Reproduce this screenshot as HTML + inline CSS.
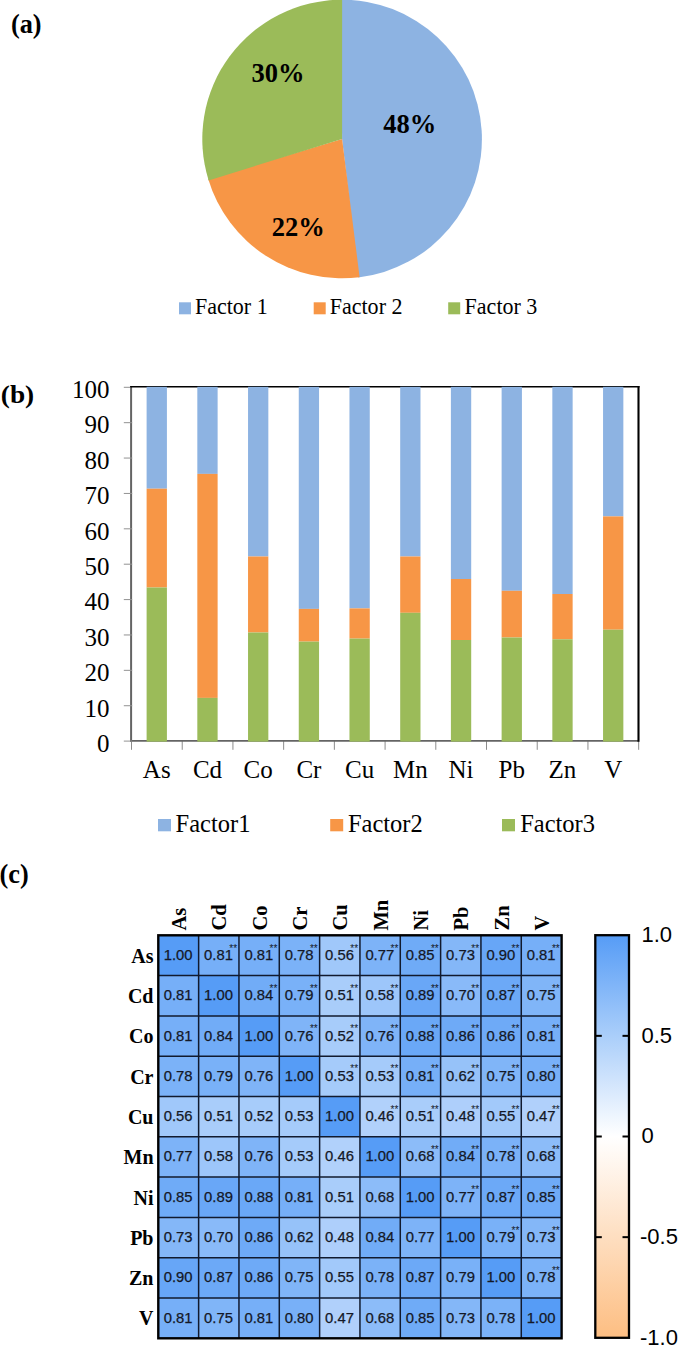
<!DOCTYPE html><html><head><meta charset="utf-8"><style>html,body{margin:0;padding:0;background:#fff;}svg{display:block}text{font-family:"Liberation Serif",serif}text.s{font-family:"Liberation Sans",sans-serif}</style></head><body>
<svg width="685" height="1348" viewBox="0 0 685 1348">
<rect x="0" y="0" width="685" height="1348" fill="#fff"/>
<path d="M342.10,139.00 L340.64,-0.29 A139.8,139.3 0 0 1 358.17,277.38 Z" fill="#8DB3E2"/>
<path d="M342.10,139.00 L359.62,277.20 A139.8,139.3 0 0 1 208.20,179.03 Z" fill="#F79646"/>
<path d="M342.10,139.00 L208.62,180.42 A139.8,139.3 0 0 1 342.10,-0.30 Z" fill="#9BBB59"/>
<text x="10.9" y="33" font-size="26.3" font-weight="bold">(a)</text>
<text x="251.6" y="82" font-size="26.5" font-weight="bold">30%</text>
<text x="383.3" y="133" font-size="26.5" font-weight="bold">48%</text>
<text x="271.8" y="235.5" font-size="26.5" font-weight="bold">22%</text>
<rect x="179" y="302.3" width="12" height="12" fill="#8DB3E2"/>
<text transform="translate(194.9,313.5) scale(0.95,1)" font-size="23.2">Factor 1</text>
<rect x="313.7" y="302.3" width="12" height="12" fill="#F79646"/>
<text transform="translate(329.7,313.5) scale(0.95,1)" font-size="23.2">Factor 2</text>
<rect x="448.2" y="302.3" width="12" height="12" fill="#9BBB59"/>
<text transform="translate(464.6,313.5) scale(0.95,1)" font-size="23.2">Factor 3</text>
<text transform="translate(0.8,402.5) scale(1.04,0.93)" font-size="26.3" font-weight="bold">(b)</text>
<text x="109.5" y="751.90" font-size="25" text-anchor="end">0</text>
<text x="109.5" y="716.52" font-size="25" text-anchor="end">10</text>
<text x="109.5" y="681.14" font-size="25" text-anchor="end">20</text>
<text x="109.5" y="645.76" font-size="25" text-anchor="end">30</text>
<text x="109.5" y="610.38" font-size="25" text-anchor="end">40</text>
<text x="109.5" y="575.00" font-size="25" text-anchor="end">50</text>
<text x="109.5" y="539.62" font-size="25" text-anchor="end">60</text>
<text x="109.5" y="504.24" font-size="25" text-anchor="end">70</text>
<text x="109.5" y="468.86" font-size="25" text-anchor="end">80</text>
<text x="109.5" y="433.48" font-size="25" text-anchor="end">90</text>
<text x="109.5" y="398.10" font-size="25" text-anchor="end">100</text>
<line x1="131.50" y1="741" x2="131.50" y2="749.8" stroke="#8c8c8c" stroke-width="1"/>
<line x1="182.22" y1="741" x2="182.22" y2="749.8" stroke="#8c8c8c" stroke-width="1"/>
<line x1="232.93" y1="741" x2="232.93" y2="749.8" stroke="#8c8c8c" stroke-width="1"/>
<line x1="283.65" y1="741" x2="283.65" y2="749.8" stroke="#8c8c8c" stroke-width="1"/>
<line x1="334.36" y1="741" x2="334.36" y2="749.8" stroke="#8c8c8c" stroke-width="1"/>
<line x1="385.08" y1="741" x2="385.08" y2="749.8" stroke="#8c8c8c" stroke-width="1"/>
<line x1="435.80" y1="741" x2="435.80" y2="749.8" stroke="#8c8c8c" stroke-width="1"/>
<line x1="486.51" y1="741" x2="486.51" y2="749.8" stroke="#8c8c8c" stroke-width="1"/>
<line x1="537.23" y1="741" x2="537.23" y2="749.8" stroke="#8c8c8c" stroke-width="1"/>
<line x1="587.94" y1="741" x2="587.94" y2="749.8" stroke="#8c8c8c" stroke-width="1"/>
<line x1="638.66" y1="741" x2="638.66" y2="749.8" stroke="#8c8c8c" stroke-width="1"/>
<line x1="131.1" y1="386.3" x2="131.1" y2="741.9" stroke="#646464" stroke-width="2"/>
<line x1="130.1" y1="740.9" x2="638.6" y2="740.9" stroke="#646464" stroke-width="1.6"/>
<line x1="130.1" y1="386.75" x2="639.5" y2="386.75" stroke="#000" stroke-width="1.7"/>
<line x1="638.5" y1="385.9" x2="638.5" y2="741.7" stroke="#000" stroke-width="2.1"/>
<line x1="123.8" y1="741.10" x2="132.2" y2="741.10" stroke="#929292" stroke-width="1"/><line x1="123.8" y1="705.72" x2="132.2" y2="705.72" stroke="#929292" stroke-width="1"/><line x1="123.8" y1="670.34" x2="132.2" y2="670.34" stroke="#929292" stroke-width="1"/><line x1="123.8" y1="634.96" x2="132.2" y2="634.96" stroke="#929292" stroke-width="1"/><line x1="123.8" y1="599.58" x2="132.2" y2="599.58" stroke="#929292" stroke-width="1"/><line x1="123.8" y1="564.20" x2="132.2" y2="564.20" stroke="#929292" stroke-width="1"/><line x1="123.8" y1="528.82" x2="132.2" y2="528.82" stroke="#929292" stroke-width="1"/><line x1="123.8" y1="493.44" x2="132.2" y2="493.44" stroke="#929292" stroke-width="1"/><line x1="123.8" y1="458.06" x2="132.2" y2="458.06" stroke="#929292" stroke-width="1"/><line x1="123.8" y1="422.68" x2="132.2" y2="422.68" stroke="#929292" stroke-width="1"/><line x1="123.8" y1="387.30" x2="130.2" y2="387.30" stroke="#929292" stroke-width="1"/>
<rect x="146.61" y="386.8" width="20.3" height="101.90" fill="#8DB3E2"/>
<rect x="146.61" y="488.7" width="20.3" height="98.80" fill="#F79646"/>
<rect x="146.61" y="587.5" width="20.3" height="154.10" fill="#9BBB59"/>
<text x="156.76" y="777.7" font-size="25" text-anchor="middle">As</text>
<rect x="197.32" y="386.8" width="20.3" height="87.10" fill="#8DB3E2"/>
<rect x="197.32" y="473.9" width="20.3" height="224.00" fill="#F79646"/>
<rect x="197.32" y="697.9" width="20.3" height="43.70" fill="#9BBB59"/>
<text x="207.47" y="777.7" font-size="25" text-anchor="middle">Cd</text>
<rect x="248.04" y="386.8" width="20.3" height="169.70" fill="#8DB3E2"/>
<rect x="248.04" y="556.5" width="20.3" height="76.00" fill="#F79646"/>
<rect x="248.04" y="632.5" width="20.3" height="109.10" fill="#9BBB59"/>
<text x="258.19" y="777.7" font-size="25" text-anchor="middle">Co</text>
<rect x="298.76" y="386.8" width="20.3" height="222.10" fill="#8DB3E2"/>
<rect x="298.76" y="608.9" width="20.3" height="32.70" fill="#F79646"/>
<rect x="298.76" y="641.6" width="20.3" height="100.00" fill="#9BBB59"/>
<text x="308.91" y="777.7" font-size="25" text-anchor="middle">Cr</text>
<rect x="349.47" y="386.8" width="20.3" height="221.60" fill="#8DB3E2"/>
<rect x="349.47" y="608.4" width="20.3" height="30.20" fill="#F79646"/>
<rect x="349.47" y="638.6" width="20.3" height="103.00" fill="#9BBB59"/>
<text x="359.62" y="777.7" font-size="25" text-anchor="middle">Cu</text>
<rect x="400.19" y="386.8" width="20.3" height="169.70" fill="#8DB3E2"/>
<rect x="400.19" y="556.5" width="20.3" height="56.30" fill="#F79646"/>
<rect x="400.19" y="612.8" width="20.3" height="128.80" fill="#9BBB59"/>
<text x="410.34" y="777.7" font-size="25" text-anchor="middle">Mn</text>
<rect x="450.90" y="386.8" width="20.3" height="192.20" fill="#8DB3E2"/>
<rect x="450.90" y="579" width="20.3" height="61.00" fill="#F79646"/>
<rect x="450.90" y="640" width="20.3" height="101.60" fill="#9BBB59"/>
<text x="461.05" y="777.7" font-size="25" text-anchor="middle">Ni</text>
<rect x="501.62" y="386.8" width="20.3" height="204.00" fill="#8DB3E2"/>
<rect x="501.62" y="590.8" width="20.3" height="46.70" fill="#F79646"/>
<rect x="501.62" y="637.5" width="20.3" height="104.10" fill="#9BBB59"/>
<text x="511.77" y="777.7" font-size="25" text-anchor="middle">Pb</text>
<rect x="552.34" y="386.8" width="20.3" height="207.20" fill="#8DB3E2"/>
<rect x="552.34" y="594" width="20.3" height="45.30" fill="#F79646"/>
<rect x="552.34" y="639.3" width="20.3" height="102.30" fill="#9BBB59"/>
<text x="562.49" y="777.7" font-size="25" text-anchor="middle">Zn</text>
<rect x="603.05" y="386.8" width="20.3" height="129.60" fill="#8DB3E2"/>
<rect x="603.05" y="516.4" width="20.3" height="113.30" fill="#F79646"/>
<rect x="603.05" y="629.7" width="20.3" height="111.90" fill="#9BBB59"/>
<text x="613.20" y="777.7" font-size="25" text-anchor="middle">V</text>
<rect x="158" y="819" width="13" height="12.3" fill="#8DB3E2"/>
<text x="175.6" y="831.6" font-size="24.5">Factor1</text>
<rect x="330.2" y="819" width="13" height="12.3" fill="#F79646"/>
<text x="347.9" y="831.6" font-size="24.5">Factor2</text>
<rect x="502" y="819" width="13" height="12.3" fill="#9BBB59"/>
<text x="520.2" y="831.6" font-size="24.5">Factor3</text>
<text x="-0.4" y="882.8" font-size="26.3" font-weight="bold">(c)</text>
<rect x="158.30" y="935.30" width="40.38" height="40.35" fill="#569cf6"/>
<rect x="198.63" y="935.30" width="40.38" height="40.35" fill="#76aff8"/>
<rect x="238.96" y="935.30" width="40.38" height="40.35" fill="#76aff8"/>
<rect x="279.29" y="935.30" width="40.38" height="40.35" fill="#7bb2f8"/>
<rect x="319.62" y="935.30" width="40.38" height="40.35" fill="#a0c8fa"/>
<rect x="359.95" y="935.30" width="40.38" height="40.35" fill="#7db3f8"/>
<rect x="400.28" y="935.30" width="40.38" height="40.35" fill="#6fabf7"/>
<rect x="440.61" y="935.30" width="40.38" height="40.35" fill="#84b7f8"/>
<rect x="480.94" y="935.30" width="40.38" height="40.35" fill="#67a6f7"/>
<rect x="521.27" y="935.30" width="40.38" height="40.35" fill="#76aff8"/>
<rect x="158.30" y="975.60" width="40.38" height="40.35" fill="#76aff8"/>
<rect x="198.63" y="975.60" width="40.38" height="40.35" fill="#569cf6"/>
<rect x="238.96" y="975.60" width="40.38" height="40.35" fill="#71acf7"/>
<rect x="279.29" y="975.60" width="40.38" height="40.35" fill="#79b1f8"/>
<rect x="319.62" y="975.60" width="40.38" height="40.35" fill="#a9cdfa"/>
<rect x="359.95" y="975.60" width="40.38" height="40.35" fill="#9dc6fa"/>
<rect x="400.28" y="975.60" width="40.38" height="40.35" fill="#69a7f7"/>
<rect x="440.61" y="975.60" width="40.38" height="40.35" fill="#89baf9"/>
<rect x="480.94" y="975.60" width="40.38" height="40.35" fill="#6ca9f7"/>
<rect x="521.27" y="975.60" width="40.38" height="40.35" fill="#80b5f8"/>
<rect x="158.30" y="1015.90" width="40.38" height="40.35" fill="#76aff8"/>
<rect x="198.63" y="1015.90" width="40.38" height="40.35" fill="#71acf7"/>
<rect x="238.96" y="1015.90" width="40.38" height="40.35" fill="#569cf6"/>
<rect x="279.29" y="1015.90" width="40.38" height="40.35" fill="#7fb4f8"/>
<rect x="319.62" y="1015.90" width="40.38" height="40.35" fill="#a7ccfa"/>
<rect x="359.95" y="1015.90" width="40.38" height="40.35" fill="#7fb4f8"/>
<rect x="400.28" y="1015.90" width="40.38" height="40.35" fill="#6aa8f7"/>
<rect x="440.61" y="1015.90" width="40.38" height="40.35" fill="#6eaaf7"/>
<rect x="480.94" y="1015.90" width="40.38" height="40.35" fill="#6eaaf7"/>
<rect x="521.27" y="1015.90" width="40.38" height="40.35" fill="#76aff8"/>
<rect x="158.30" y="1056.20" width="40.38" height="40.35" fill="#7bb2f8"/>
<rect x="198.63" y="1056.20" width="40.38" height="40.35" fill="#79b1f8"/>
<rect x="238.96" y="1056.20" width="40.38" height="40.35" fill="#7fb4f8"/>
<rect x="279.29" y="1056.20" width="40.38" height="40.35" fill="#569cf6"/>
<rect x="319.62" y="1056.20" width="40.38" height="40.35" fill="#a5cbfa"/>
<rect x="359.95" y="1056.20" width="40.38" height="40.35" fill="#a5cbfa"/>
<rect x="400.28" y="1056.20" width="40.38" height="40.35" fill="#76aff8"/>
<rect x="440.61" y="1056.20" width="40.38" height="40.35" fill="#96c2f9"/>
<rect x="480.94" y="1056.20" width="40.38" height="40.35" fill="#80b5f8"/>
<rect x="521.27" y="1056.20" width="40.38" height="40.35" fill="#78b0f8"/>
<rect x="158.30" y="1096.50" width="40.38" height="40.35" fill="#a0c8fa"/>
<rect x="198.63" y="1096.50" width="40.38" height="40.35" fill="#a9cdfa"/>
<rect x="238.96" y="1096.50" width="40.38" height="40.35" fill="#a7ccfa"/>
<rect x="279.29" y="1096.50" width="40.38" height="40.35" fill="#a5cbfa"/>
<rect x="319.62" y="1096.50" width="40.38" height="40.35" fill="#569cf6"/>
<rect x="359.95" y="1096.50" width="40.38" height="40.35" fill="#b1d1fb"/>
<rect x="400.28" y="1096.50" width="40.38" height="40.35" fill="#a9cdfa"/>
<rect x="440.61" y="1096.50" width="40.38" height="40.35" fill="#aecffb"/>
<rect x="480.94" y="1096.50" width="40.38" height="40.35" fill="#a2c9fa"/>
<rect x="521.27" y="1096.50" width="40.38" height="40.35" fill="#b0d0fb"/>
<rect x="158.30" y="1136.80" width="40.38" height="40.35" fill="#7db3f8"/>
<rect x="198.63" y="1136.80" width="40.38" height="40.35" fill="#9dc6fa"/>
<rect x="238.96" y="1136.80" width="40.38" height="40.35" fill="#7fb4f8"/>
<rect x="279.29" y="1136.80" width="40.38" height="40.35" fill="#a5cbfa"/>
<rect x="319.62" y="1136.80" width="40.38" height="40.35" fill="#b1d1fb"/>
<rect x="359.95" y="1136.80" width="40.38" height="40.35" fill="#569cf6"/>
<rect x="400.28" y="1136.80" width="40.38" height="40.35" fill="#8cbcf9"/>
<rect x="440.61" y="1136.80" width="40.38" height="40.35" fill="#71acf7"/>
<rect x="480.94" y="1136.80" width="40.38" height="40.35" fill="#7bb2f8"/>
<rect x="521.27" y="1136.80" width="40.38" height="40.35" fill="#8cbcf9"/>
<rect x="158.30" y="1177.10" width="40.38" height="40.35" fill="#6fabf7"/>
<rect x="198.63" y="1177.10" width="40.38" height="40.35" fill="#69a7f7"/>
<rect x="238.96" y="1177.10" width="40.38" height="40.35" fill="#6aa8f7"/>
<rect x="279.29" y="1177.10" width="40.38" height="40.35" fill="#76aff8"/>
<rect x="319.62" y="1177.10" width="40.38" height="40.35" fill="#a9cdfa"/>
<rect x="359.95" y="1177.10" width="40.38" height="40.35" fill="#8cbcf9"/>
<rect x="400.28" y="1177.10" width="40.38" height="40.35" fill="#569cf6"/>
<rect x="440.61" y="1177.10" width="40.38" height="40.35" fill="#7db3f8"/>
<rect x="480.94" y="1177.10" width="40.38" height="40.35" fill="#6ca9f7"/>
<rect x="521.27" y="1177.10" width="40.38" height="40.35" fill="#6fabf7"/>
<rect x="158.30" y="1217.40" width="40.38" height="40.35" fill="#84b7f8"/>
<rect x="198.63" y="1217.40" width="40.38" height="40.35" fill="#89baf9"/>
<rect x="238.96" y="1217.40" width="40.38" height="40.35" fill="#6eaaf7"/>
<rect x="279.29" y="1217.40" width="40.38" height="40.35" fill="#96c2f9"/>
<rect x="319.62" y="1217.40" width="40.38" height="40.35" fill="#aecffb"/>
<rect x="359.95" y="1217.40" width="40.38" height="40.35" fill="#71acf7"/>
<rect x="400.28" y="1217.40" width="40.38" height="40.35" fill="#7db3f8"/>
<rect x="440.61" y="1217.40" width="40.38" height="40.35" fill="#569cf6"/>
<rect x="480.94" y="1217.40" width="40.38" height="40.35" fill="#79b1f8"/>
<rect x="521.27" y="1217.40" width="40.38" height="40.35" fill="#84b7f8"/>
<rect x="158.30" y="1257.70" width="40.38" height="40.35" fill="#67a6f7"/>
<rect x="198.63" y="1257.70" width="40.38" height="40.35" fill="#6ca9f7"/>
<rect x="238.96" y="1257.70" width="40.38" height="40.35" fill="#6eaaf7"/>
<rect x="279.29" y="1257.70" width="40.38" height="40.35" fill="#80b5f8"/>
<rect x="319.62" y="1257.70" width="40.38" height="40.35" fill="#a2c9fa"/>
<rect x="359.95" y="1257.70" width="40.38" height="40.35" fill="#7bb2f8"/>
<rect x="400.28" y="1257.70" width="40.38" height="40.35" fill="#6ca9f7"/>
<rect x="440.61" y="1257.70" width="40.38" height="40.35" fill="#79b1f8"/>
<rect x="480.94" y="1257.70" width="40.38" height="40.35" fill="#569cf6"/>
<rect x="521.27" y="1257.70" width="40.38" height="40.35" fill="#7bb2f8"/>
<rect x="158.30" y="1298.00" width="40.38" height="40.35" fill="#76aff8"/>
<rect x="198.63" y="1298.00" width="40.38" height="40.35" fill="#80b5f8"/>
<rect x="238.96" y="1298.00" width="40.38" height="40.35" fill="#76aff8"/>
<rect x="279.29" y="1298.00" width="40.38" height="40.35" fill="#78b0f8"/>
<rect x="319.62" y="1298.00" width="40.38" height="40.35" fill="#b0d0fb"/>
<rect x="359.95" y="1298.00" width="40.38" height="40.35" fill="#8cbcf9"/>
<rect x="400.28" y="1298.00" width="40.38" height="40.35" fill="#6fabf7"/>
<rect x="440.61" y="1298.00" width="40.38" height="40.35" fill="#84b7f8"/>
<rect x="480.94" y="1298.00" width="40.38" height="40.35" fill="#7bb2f8"/>
<rect x="521.27" y="1298.00" width="40.38" height="40.35" fill="#569cf6"/>
<text x="178.16" y="959.95" class="s" font-size="14.8" text-anchor="middle" fill="#141826" stroke="#141826" stroke-width="0.25">1.00</text>
<text x="218.50" y="959.95" class="s" font-size="14.8" text-anchor="middle" fill="#141826" stroke="#141826" stroke-width="0.25">0.81</text>
<text x="229.30" y="951.55" class="s" font-size="10" fill="#141826">**</text>
<text x="258.82" y="959.95" class="s" font-size="14.8" text-anchor="middle" fill="#141826" stroke="#141826" stroke-width="0.25">0.81</text>
<text x="269.62" y="951.55" class="s" font-size="10" fill="#141826">**</text>
<text x="299.16" y="959.95" class="s" font-size="14.8" text-anchor="middle" fill="#141826" stroke="#141826" stroke-width="0.25">0.78</text>
<text x="309.96" y="951.55" class="s" font-size="10" fill="#141826">**</text>
<text x="339.48" y="959.95" class="s" font-size="14.8" text-anchor="middle" fill="#141826" stroke="#141826" stroke-width="0.25">0.56</text>
<text x="350.28" y="951.55" class="s" font-size="10" fill="#141826">**</text>
<text x="379.81" y="959.95" class="s" font-size="14.8" text-anchor="middle" fill="#141826" stroke="#141826" stroke-width="0.25">0.77</text>
<text x="390.62" y="951.55" class="s" font-size="10" fill="#141826">**</text>
<text x="420.14" y="959.95" class="s" font-size="14.8" text-anchor="middle" fill="#141826" stroke="#141826" stroke-width="0.25">0.85</text>
<text x="430.94" y="951.55" class="s" font-size="10" fill="#141826">**</text>
<text x="460.47" y="959.95" class="s" font-size="14.8" text-anchor="middle" fill="#141826" stroke="#141826" stroke-width="0.25">0.73</text>
<text x="471.27" y="951.55" class="s" font-size="10" fill="#141826">**</text>
<text x="500.81" y="959.95" class="s" font-size="14.8" text-anchor="middle" fill="#141826" stroke="#141826" stroke-width="0.25">0.90</text>
<text x="511.61" y="951.55" class="s" font-size="10" fill="#141826">**</text>
<text x="541.13" y="959.95" class="s" font-size="14.8" text-anchor="middle" fill="#141826" stroke="#141826" stroke-width="0.25">0.81</text>
<text x="551.93" y="951.55" class="s" font-size="10" fill="#141826">**</text>
<text x="178.16" y="1000.25" class="s" font-size="14.8" text-anchor="middle" fill="#141826" stroke="#141826" stroke-width="0.25">0.81</text>
<text x="218.50" y="1000.25" class="s" font-size="14.8" text-anchor="middle" fill="#141826" stroke="#141826" stroke-width="0.25">1.00</text>
<text x="258.82" y="1000.25" class="s" font-size="14.8" text-anchor="middle" fill="#141826" stroke="#141826" stroke-width="0.25">0.84</text>
<text x="269.62" y="991.85" class="s" font-size="10" fill="#141826">**</text>
<text x="299.16" y="1000.25" class="s" font-size="14.8" text-anchor="middle" fill="#141826" stroke="#141826" stroke-width="0.25">0.79</text>
<text x="309.96" y="991.85" class="s" font-size="10" fill="#141826">**</text>
<text x="339.48" y="1000.25" class="s" font-size="14.8" text-anchor="middle" fill="#141826" stroke="#141826" stroke-width="0.25">0.51</text>
<text x="350.28" y="991.85" class="s" font-size="10" fill="#141826">**</text>
<text x="379.81" y="1000.25" class="s" font-size="14.8" text-anchor="middle" fill="#141826" stroke="#141826" stroke-width="0.25">0.58</text>
<text x="390.62" y="991.85" class="s" font-size="10" fill="#141826">**</text>
<text x="420.14" y="1000.25" class="s" font-size="14.8" text-anchor="middle" fill="#141826" stroke="#141826" stroke-width="0.25">0.89</text>
<text x="430.94" y="991.85" class="s" font-size="10" fill="#141826">**</text>
<text x="460.47" y="1000.25" class="s" font-size="14.8" text-anchor="middle" fill="#141826" stroke="#141826" stroke-width="0.25">0.70</text>
<text x="471.27" y="991.85" class="s" font-size="10" fill="#141826">**</text>
<text x="500.81" y="1000.25" class="s" font-size="14.8" text-anchor="middle" fill="#141826" stroke="#141826" stroke-width="0.25">0.87</text>
<text x="511.61" y="991.85" class="s" font-size="10" fill="#141826">**</text>
<text x="541.13" y="1000.25" class="s" font-size="14.8" text-anchor="middle" fill="#141826" stroke="#141826" stroke-width="0.25">0.75</text>
<text x="551.93" y="991.85" class="s" font-size="10" fill="#141826">**</text>
<text x="178.16" y="1040.55" class="s" font-size="14.8" text-anchor="middle" fill="#141826" stroke="#141826" stroke-width="0.25">0.81</text>
<text x="218.50" y="1040.55" class="s" font-size="14.8" text-anchor="middle" fill="#141826" stroke="#141826" stroke-width="0.25">0.84</text>
<text x="258.82" y="1040.55" class="s" font-size="14.8" text-anchor="middle" fill="#141826" stroke="#141826" stroke-width="0.25">1.00</text>
<text x="299.16" y="1040.55" class="s" font-size="14.8" text-anchor="middle" fill="#141826" stroke="#141826" stroke-width="0.25">0.76</text>
<text x="309.96" y="1032.15" class="s" font-size="10" fill="#141826">**</text>
<text x="339.48" y="1040.55" class="s" font-size="14.8" text-anchor="middle" fill="#141826" stroke="#141826" stroke-width="0.25">0.52</text>
<text x="350.28" y="1032.15" class="s" font-size="10" fill="#141826">**</text>
<text x="379.81" y="1040.55" class="s" font-size="14.8" text-anchor="middle" fill="#141826" stroke="#141826" stroke-width="0.25">0.76</text>
<text x="390.62" y="1032.15" class="s" font-size="10" fill="#141826">**</text>
<text x="420.14" y="1040.55" class="s" font-size="14.8" text-anchor="middle" fill="#141826" stroke="#141826" stroke-width="0.25">0.88</text>
<text x="430.94" y="1032.15" class="s" font-size="10" fill="#141826">**</text>
<text x="460.47" y="1040.55" class="s" font-size="14.8" text-anchor="middle" fill="#141826" stroke="#141826" stroke-width="0.25">0.86</text>
<text x="471.27" y="1032.15" class="s" font-size="10" fill="#141826">**</text>
<text x="500.81" y="1040.55" class="s" font-size="14.8" text-anchor="middle" fill="#141826" stroke="#141826" stroke-width="0.25">0.86</text>
<text x="511.61" y="1032.15" class="s" font-size="10" fill="#141826">**</text>
<text x="541.13" y="1040.55" class="s" font-size="14.8" text-anchor="middle" fill="#141826" stroke="#141826" stroke-width="0.25">0.81</text>
<text x="551.93" y="1032.15" class="s" font-size="10" fill="#141826">**</text>
<text x="178.16" y="1080.85" class="s" font-size="14.8" text-anchor="middle" fill="#141826" stroke="#141826" stroke-width="0.25">0.78</text>
<text x="218.50" y="1080.85" class="s" font-size="14.8" text-anchor="middle" fill="#141826" stroke="#141826" stroke-width="0.25">0.79</text>
<text x="258.82" y="1080.85" class="s" font-size="14.8" text-anchor="middle" fill="#141826" stroke="#141826" stroke-width="0.25">0.76</text>
<text x="299.16" y="1080.85" class="s" font-size="14.8" text-anchor="middle" fill="#141826" stroke="#141826" stroke-width="0.25">1.00</text>
<text x="339.48" y="1080.85" class="s" font-size="14.8" text-anchor="middle" fill="#141826" stroke="#141826" stroke-width="0.25">0.53</text>
<text x="350.28" y="1072.45" class="s" font-size="10" fill="#141826">**</text>
<text x="379.81" y="1080.85" class="s" font-size="14.8" text-anchor="middle" fill="#141826" stroke="#141826" stroke-width="0.25">0.53</text>
<text x="390.62" y="1072.45" class="s" font-size="10" fill="#141826">**</text>
<text x="420.14" y="1080.85" class="s" font-size="14.8" text-anchor="middle" fill="#141826" stroke="#141826" stroke-width="0.25">0.81</text>
<text x="430.94" y="1072.45" class="s" font-size="10" fill="#141826">**</text>
<text x="460.47" y="1080.85" class="s" font-size="14.8" text-anchor="middle" fill="#141826" stroke="#141826" stroke-width="0.25">0.62</text>
<text x="471.27" y="1072.45" class="s" font-size="10" fill="#141826">**</text>
<text x="500.81" y="1080.85" class="s" font-size="14.8" text-anchor="middle" fill="#141826" stroke="#141826" stroke-width="0.25">0.75</text>
<text x="511.61" y="1072.45" class="s" font-size="10" fill="#141826">**</text>
<text x="541.13" y="1080.85" class="s" font-size="14.8" text-anchor="middle" fill="#141826" stroke="#141826" stroke-width="0.25">0.80</text>
<text x="551.93" y="1072.45" class="s" font-size="10" fill="#141826">**</text>
<text x="178.16" y="1121.15" class="s" font-size="14.8" text-anchor="middle" fill="#141826" stroke="#141826" stroke-width="0.25">0.56</text>
<text x="218.50" y="1121.15" class="s" font-size="14.8" text-anchor="middle" fill="#141826" stroke="#141826" stroke-width="0.25">0.51</text>
<text x="258.82" y="1121.15" class="s" font-size="14.8" text-anchor="middle" fill="#141826" stroke="#141826" stroke-width="0.25">0.52</text>
<text x="299.16" y="1121.15" class="s" font-size="14.8" text-anchor="middle" fill="#141826" stroke="#141826" stroke-width="0.25">0.53</text>
<text x="339.48" y="1121.15" class="s" font-size="14.8" text-anchor="middle" fill="#141826" stroke="#141826" stroke-width="0.25">1.00</text>
<text x="379.81" y="1121.15" class="s" font-size="14.8" text-anchor="middle" fill="#141826" stroke="#141826" stroke-width="0.25">0.46</text>
<text x="390.62" y="1112.75" class="s" font-size="10" fill="#141826">**</text>
<text x="420.14" y="1121.15" class="s" font-size="14.8" text-anchor="middle" fill="#141826" stroke="#141826" stroke-width="0.25">0.51</text>
<text x="430.94" y="1112.75" class="s" font-size="10" fill="#141826">**</text>
<text x="460.47" y="1121.15" class="s" font-size="14.8" text-anchor="middle" fill="#141826" stroke="#141826" stroke-width="0.25">0.48</text>
<text x="471.27" y="1112.75" class="s" font-size="10" fill="#141826">**</text>
<text x="500.81" y="1121.15" class="s" font-size="14.8" text-anchor="middle" fill="#141826" stroke="#141826" stroke-width="0.25">0.55</text>
<text x="511.61" y="1112.75" class="s" font-size="10" fill="#141826">**</text>
<text x="541.13" y="1121.15" class="s" font-size="14.8" text-anchor="middle" fill="#141826" stroke="#141826" stroke-width="0.25">0.47</text>
<text x="551.93" y="1112.75" class="s" font-size="10" fill="#141826">**</text>
<text x="178.16" y="1161.45" class="s" font-size="14.8" text-anchor="middle" fill="#141826" stroke="#141826" stroke-width="0.25">0.77</text>
<text x="218.50" y="1161.45" class="s" font-size="14.8" text-anchor="middle" fill="#141826" stroke="#141826" stroke-width="0.25">0.58</text>
<text x="258.82" y="1161.45" class="s" font-size="14.8" text-anchor="middle" fill="#141826" stroke="#141826" stroke-width="0.25">0.76</text>
<text x="299.16" y="1161.45" class="s" font-size="14.8" text-anchor="middle" fill="#141826" stroke="#141826" stroke-width="0.25">0.53</text>
<text x="339.48" y="1161.45" class="s" font-size="14.8" text-anchor="middle" fill="#141826" stroke="#141826" stroke-width="0.25">0.46</text>
<text x="379.81" y="1161.45" class="s" font-size="14.8" text-anchor="middle" fill="#141826" stroke="#141826" stroke-width="0.25">1.00</text>
<text x="420.14" y="1161.45" class="s" font-size="14.8" text-anchor="middle" fill="#141826" stroke="#141826" stroke-width="0.25">0.68</text>
<text x="430.94" y="1153.05" class="s" font-size="10" fill="#141826">**</text>
<text x="460.47" y="1161.45" class="s" font-size="14.8" text-anchor="middle" fill="#141826" stroke="#141826" stroke-width="0.25">0.84</text>
<text x="471.27" y="1153.05" class="s" font-size="10" fill="#141826">**</text>
<text x="500.81" y="1161.45" class="s" font-size="14.8" text-anchor="middle" fill="#141826" stroke="#141826" stroke-width="0.25">0.78</text>
<text x="511.61" y="1153.05" class="s" font-size="10" fill="#141826">**</text>
<text x="541.13" y="1161.45" class="s" font-size="14.8" text-anchor="middle" fill="#141826" stroke="#141826" stroke-width="0.25">0.68</text>
<text x="551.93" y="1153.05" class="s" font-size="10" fill="#141826">**</text>
<text x="178.16" y="1201.75" class="s" font-size="14.8" text-anchor="middle" fill="#141826" stroke="#141826" stroke-width="0.25">0.85</text>
<text x="218.50" y="1201.75" class="s" font-size="14.8" text-anchor="middle" fill="#141826" stroke="#141826" stroke-width="0.25">0.89</text>
<text x="258.82" y="1201.75" class="s" font-size="14.8" text-anchor="middle" fill="#141826" stroke="#141826" stroke-width="0.25">0.88</text>
<text x="299.16" y="1201.75" class="s" font-size="14.8" text-anchor="middle" fill="#141826" stroke="#141826" stroke-width="0.25">0.81</text>
<text x="339.48" y="1201.75" class="s" font-size="14.8" text-anchor="middle" fill="#141826" stroke="#141826" stroke-width="0.25">0.51</text>
<text x="379.81" y="1201.75" class="s" font-size="14.8" text-anchor="middle" fill="#141826" stroke="#141826" stroke-width="0.25">0.68</text>
<text x="420.14" y="1201.75" class="s" font-size="14.8" text-anchor="middle" fill="#141826" stroke="#141826" stroke-width="0.25">1.00</text>
<text x="460.47" y="1201.75" class="s" font-size="14.8" text-anchor="middle" fill="#141826" stroke="#141826" stroke-width="0.25">0.77</text>
<text x="471.27" y="1193.35" class="s" font-size="10" fill="#141826">**</text>
<text x="500.81" y="1201.75" class="s" font-size="14.8" text-anchor="middle" fill="#141826" stroke="#141826" stroke-width="0.25">0.87</text>
<text x="511.61" y="1193.35" class="s" font-size="10" fill="#141826">**</text>
<text x="541.13" y="1201.75" class="s" font-size="14.8" text-anchor="middle" fill="#141826" stroke="#141826" stroke-width="0.25">0.85</text>
<text x="551.93" y="1193.35" class="s" font-size="10" fill="#141826">**</text>
<text x="178.16" y="1242.05" class="s" font-size="14.8" text-anchor="middle" fill="#141826" stroke="#141826" stroke-width="0.25">0.73</text>
<text x="218.50" y="1242.05" class="s" font-size="14.8" text-anchor="middle" fill="#141826" stroke="#141826" stroke-width="0.25">0.70</text>
<text x="258.82" y="1242.05" class="s" font-size="14.8" text-anchor="middle" fill="#141826" stroke="#141826" stroke-width="0.25">0.86</text>
<text x="299.16" y="1242.05" class="s" font-size="14.8" text-anchor="middle" fill="#141826" stroke="#141826" stroke-width="0.25">0.62</text>
<text x="339.48" y="1242.05" class="s" font-size="14.8" text-anchor="middle" fill="#141826" stroke="#141826" stroke-width="0.25">0.48</text>
<text x="379.81" y="1242.05" class="s" font-size="14.8" text-anchor="middle" fill="#141826" stroke="#141826" stroke-width="0.25">0.84</text>
<text x="420.14" y="1242.05" class="s" font-size="14.8" text-anchor="middle" fill="#141826" stroke="#141826" stroke-width="0.25">0.77</text>
<text x="460.47" y="1242.05" class="s" font-size="14.8" text-anchor="middle" fill="#141826" stroke="#141826" stroke-width="0.25">1.00</text>
<text x="500.81" y="1242.05" class="s" font-size="14.8" text-anchor="middle" fill="#141826" stroke="#141826" stroke-width="0.25">0.79</text>
<text x="511.61" y="1233.65" class="s" font-size="10" fill="#141826">**</text>
<text x="541.13" y="1242.05" class="s" font-size="14.8" text-anchor="middle" fill="#141826" stroke="#141826" stroke-width="0.25">0.73</text>
<text x="551.93" y="1233.65" class="s" font-size="10" fill="#141826">**</text>
<text x="178.16" y="1282.35" class="s" font-size="14.8" text-anchor="middle" fill="#141826" stroke="#141826" stroke-width="0.25">0.90</text>
<text x="218.50" y="1282.35" class="s" font-size="14.8" text-anchor="middle" fill="#141826" stroke="#141826" stroke-width="0.25">0.87</text>
<text x="258.82" y="1282.35" class="s" font-size="14.8" text-anchor="middle" fill="#141826" stroke="#141826" stroke-width="0.25">0.86</text>
<text x="299.16" y="1282.35" class="s" font-size="14.8" text-anchor="middle" fill="#141826" stroke="#141826" stroke-width="0.25">0.75</text>
<text x="339.48" y="1282.35" class="s" font-size="14.8" text-anchor="middle" fill="#141826" stroke="#141826" stroke-width="0.25">0.55</text>
<text x="379.81" y="1282.35" class="s" font-size="14.8" text-anchor="middle" fill="#141826" stroke="#141826" stroke-width="0.25">0.78</text>
<text x="420.14" y="1282.35" class="s" font-size="14.8" text-anchor="middle" fill="#141826" stroke="#141826" stroke-width="0.25">0.87</text>
<text x="460.47" y="1282.35" class="s" font-size="14.8" text-anchor="middle" fill="#141826" stroke="#141826" stroke-width="0.25">0.79</text>
<text x="500.81" y="1282.35" class="s" font-size="14.8" text-anchor="middle" fill="#141826" stroke="#141826" stroke-width="0.25">1.00</text>
<text x="541.13" y="1282.35" class="s" font-size="14.8" text-anchor="middle" fill="#141826" stroke="#141826" stroke-width="0.25">0.78</text>
<text x="551.93" y="1273.95" class="s" font-size="10" fill="#141826">**</text>
<text x="178.16" y="1322.65" class="s" font-size="14.8" text-anchor="middle" fill="#141826" stroke="#141826" stroke-width="0.25">0.81</text>
<text x="218.50" y="1322.65" class="s" font-size="14.8" text-anchor="middle" fill="#141826" stroke="#141826" stroke-width="0.25">0.75</text>
<text x="258.82" y="1322.65" class="s" font-size="14.8" text-anchor="middle" fill="#141826" stroke="#141826" stroke-width="0.25">0.81</text>
<text x="299.16" y="1322.65" class="s" font-size="14.8" text-anchor="middle" fill="#141826" stroke="#141826" stroke-width="0.25">0.80</text>
<text x="339.48" y="1322.65" class="s" font-size="14.8" text-anchor="middle" fill="#141826" stroke="#141826" stroke-width="0.25">0.47</text>
<text x="379.81" y="1322.65" class="s" font-size="14.8" text-anchor="middle" fill="#141826" stroke="#141826" stroke-width="0.25">0.68</text>
<text x="420.14" y="1322.65" class="s" font-size="14.8" text-anchor="middle" fill="#141826" stroke="#141826" stroke-width="0.25">0.85</text>
<text x="460.47" y="1322.65" class="s" font-size="14.8" text-anchor="middle" fill="#141826" stroke="#141826" stroke-width="0.25">0.73</text>
<text x="500.81" y="1322.65" class="s" font-size="14.8" text-anchor="middle" fill="#141826" stroke="#141826" stroke-width="0.25">0.78</text>
<text x="541.13" y="1322.65" class="s" font-size="14.8" text-anchor="middle" fill="#141826" stroke="#141826" stroke-width="0.25">1.00</text>
<line x1="198.63" y1="935.3" x2="198.63" y2="1338.30" stroke="#111a2e" stroke-width="1.5"/>
<line x1="158.3" y1="975.60" x2="561.60" y2="975.60" stroke="#111a2e" stroke-width="1.5"/>
<line x1="238.96" y1="935.3" x2="238.96" y2="1338.30" stroke="#111a2e" stroke-width="1.5"/>
<line x1="158.3" y1="1015.90" x2="561.60" y2="1015.90" stroke="#111a2e" stroke-width="1.5"/>
<line x1="279.29" y1="935.3" x2="279.29" y2="1338.30" stroke="#111a2e" stroke-width="1.5"/>
<line x1="158.3" y1="1056.20" x2="561.60" y2="1056.20" stroke="#111a2e" stroke-width="1.5"/>
<line x1="319.62" y1="935.3" x2="319.62" y2="1338.30" stroke="#111a2e" stroke-width="1.5"/>
<line x1="158.3" y1="1096.50" x2="561.60" y2="1096.50" stroke="#111a2e" stroke-width="1.5"/>
<line x1="359.95" y1="935.3" x2="359.95" y2="1338.30" stroke="#111a2e" stroke-width="1.5"/>
<line x1="158.3" y1="1136.80" x2="561.60" y2="1136.80" stroke="#111a2e" stroke-width="1.5"/>
<line x1="400.28" y1="935.3" x2="400.28" y2="1338.30" stroke="#111a2e" stroke-width="1.5"/>
<line x1="158.3" y1="1177.10" x2="561.60" y2="1177.10" stroke="#111a2e" stroke-width="1.5"/>
<line x1="440.61" y1="935.3" x2="440.61" y2="1338.30" stroke="#111a2e" stroke-width="1.5"/>
<line x1="158.3" y1="1217.40" x2="561.60" y2="1217.40" stroke="#111a2e" stroke-width="1.5"/>
<line x1="480.94" y1="935.3" x2="480.94" y2="1338.30" stroke="#111a2e" stroke-width="1.5"/>
<line x1="158.3" y1="1257.70" x2="561.60" y2="1257.70" stroke="#111a2e" stroke-width="1.5"/>
<line x1="521.27" y1="935.3" x2="521.27" y2="1338.30" stroke="#111a2e" stroke-width="1.5"/>
<line x1="158.3" y1="1298.00" x2="561.60" y2="1298.00" stroke="#111a2e" stroke-width="1.5"/>
<rect x="158.30" y="935.30" width="403.30" height="403.00" fill="none" stroke="#000" stroke-width="2.4"/>
<text x="153.5" y="962.75" font-size="20" font-weight="bold" text-anchor="end">As</text>
<text x="153.5" y="1003.05" font-size="20" font-weight="bold" text-anchor="end">Cd</text>
<text x="153.5" y="1043.35" font-size="20" font-weight="bold" text-anchor="end">Co</text>
<text x="153.5" y="1083.65" font-size="20" font-weight="bold" text-anchor="end">Cr</text>
<text x="153.5" y="1123.95" font-size="20" font-weight="bold" text-anchor="end">Cu</text>
<text x="153.5" y="1164.25" font-size="20" font-weight="bold" text-anchor="end">Mn</text>
<text x="153.5" y="1204.55" font-size="20" font-weight="bold" text-anchor="end">Ni</text>
<text x="153.5" y="1244.85" font-size="20" font-weight="bold" text-anchor="end">Pb</text>
<text x="153.5" y="1285.15" font-size="20" font-weight="bold" text-anchor="end">Zn</text>
<text x="153.5" y="1325.45" font-size="20" font-weight="bold" text-anchor="end">V</text>
<text transform="translate(185.97,930.5) rotate(-90)" x="0" y="0" font-size="20.5" font-weight="bold">As</text>
<text transform="translate(226.30,930.5) rotate(-90)" x="0" y="0" font-size="20.5" font-weight="bold">Cd</text>
<text transform="translate(266.62,930.5) rotate(-90)" x="0" y="0" font-size="20.5" font-weight="bold">Co</text>
<text transform="translate(306.96,930.5) rotate(-90)" x="0" y="0" font-size="20.5" font-weight="bold">Cr</text>
<text transform="translate(347.28,930.5) rotate(-90)" x="0" y="0" font-size="20.5" font-weight="bold">Cu</text>
<text transform="translate(387.62,930.5) rotate(-90)" x="0" y="0" font-size="20.5" font-weight="bold">Mn</text>
<text transform="translate(427.94,930.5) rotate(-90)" x="0" y="0" font-size="20.5" font-weight="bold">Ni</text>
<text transform="translate(468.27,930.5) rotate(-90)" x="0" y="0" font-size="20.5" font-weight="bold">Pb</text>
<text transform="translate(508.61,930.5) rotate(-90)" x="0" y="0" font-size="20.5" font-weight="bold">Zn</text>
<text transform="translate(548.93,930.5) rotate(-90)" x="0" y="0" font-size="20.5" font-weight="bold">V</text>
<defs><linearGradient id="cb" x1="0" y1="0" x2="0" y2="1"><stop offset="0" stop-color="#569cf6"/><stop offset="0.25" stop-color="#aacefa"/><stop offset="0.5" stop-color="#ffffff"/><stop offset="0.75" stop-color="#fedec0"/><stop offset="1" stop-color="#fdbe82"/></linearGradient></defs>
<rect x="595.3" y="935.2" width="33.70" height="402.60" fill="url(#cb)" stroke="#000" stroke-width="2.3"/>
<text x="641.5" y="942.20" class="s" font-size="22" fill="#000">1.0</text>
<line x1="595.3" y1="1035.85" x2="601.8" y2="1035.85" stroke="#000" stroke-width="2"/>
<line x1="622.5" y1="1035.85" x2="629.0" y2="1035.85" stroke="#000" stroke-width="2"/>
<text x="641.5" y="1042.85" class="s" font-size="22" fill="#000">0.5</text>
<line x1="595.3" y1="1136.50" x2="601.8" y2="1136.50" stroke="#000" stroke-width="2"/>
<line x1="622.5" y1="1136.50" x2="629.0" y2="1136.50" stroke="#000" stroke-width="2"/>
<text x="641.5" y="1142.70" class="s" font-size="22" fill="#000">0</text>
<line x1="595.3" y1="1237.15" x2="601.8" y2="1237.15" stroke="#000" stroke-width="2"/>
<line x1="622.5" y1="1237.15" x2="629.0" y2="1237.15" stroke="#000" stroke-width="2"/>
<text x="640.0" y="1244.15" class="s" font-size="22" fill="#000">-0.5</text>
<text x="640.0" y="1344.80" class="s" font-size="22" fill="#000">-1.0</text>
</svg></body></html>
